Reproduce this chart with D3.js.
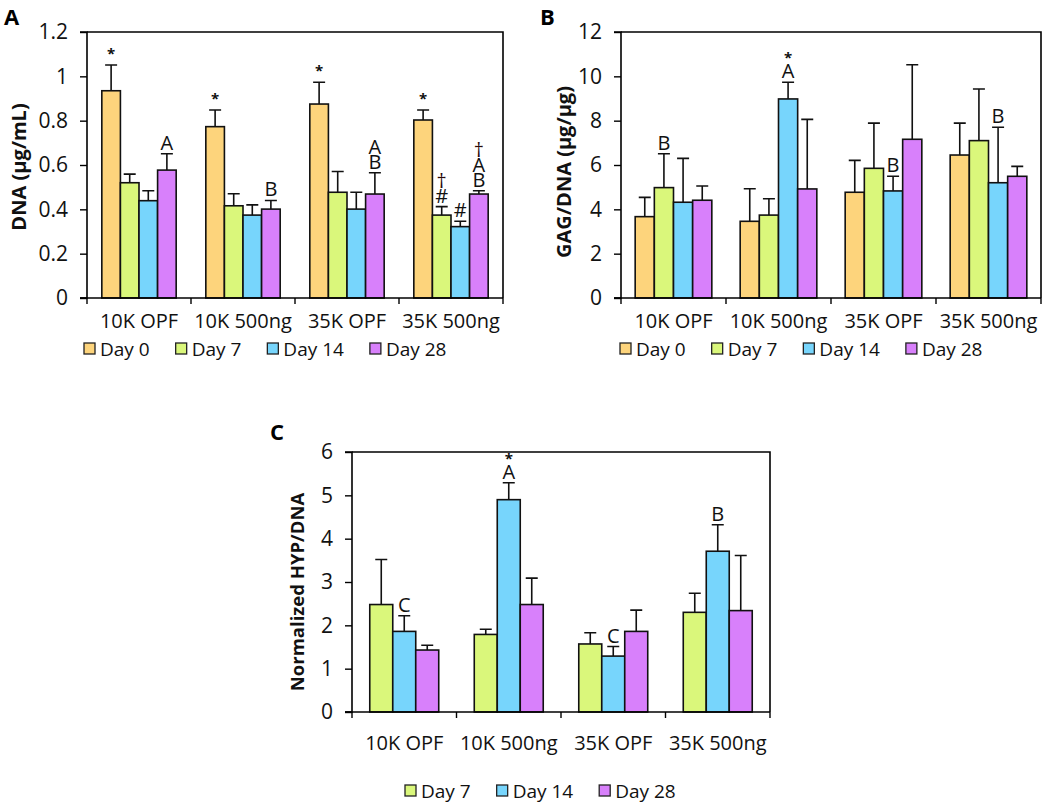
<!DOCTYPE html>
<html>
<head>
<meta charset="utf-8">
<script src="https://cdnjs.cloudflare.com/ajax/libs/d3/7.8.5/d3.min.js"></script>
<style>
  html, body { margin: 0; padding: 0; background: #fff; }
  svg { display: block; font-family: "Open Sans", "DejaVu Sans", sans-serif; }
</style>
</head>
<body>
<svg id="chart" width="1050" height="805"></svg>
<script>
// ---------- DATA ----------
const categories = ["10K OPF", "10K 500ng", "35K OPF", "35K 500ng"];
const daysAB = ["Day 0", "Day 7", "Day 14", "Day 28"];
const daysC = ["Day 7", "Day 14", "Day 28"];

// Panel A: DNA (µg/mL) — rows = categories, columns = days
const dnaMean = [
  [0.935, 0.520, 0.439, 0.577],
  [0.773, 0.416, 0.374, 0.401],
  [0.875, 0.477, 0.401, 0.469],
  [0.803, 0.374, 0.322, 0.469]
];
const dnaErr = [
  [0.116, 0.039, 0.045, 0.074],
  [0.075, 0.054, 0.046, 0.039],
  [0.098, 0.094, 0.076, 0.096],
  [0.045, 0.038, 0.024, 0.015]
];
// annotations, listed bottom-up
const dnaMarks = [
  [["*"], [], [], ["A"]],
  [["*"], [], [], ["B"]],
  [["*"], [], [], ["B", "A"]],
  [["*"], ["#", "†"], ["#"], ["B", "A", "†"]]
];
const dnaTicks = [0, 0.2, 0.4, 0.6, 0.8, 1, 1.2];

// Panel B: GAG/DNA (µg/µg)
const gagMean = [
  [3.67, 4.98, 4.32, 4.41],
  [3.46, 3.74, 8.98, 4.92],
  [4.77, 5.85, 4.83, 7.16],
  [6.45, 7.10, 5.20, 5.49]
];
const gagErr = [
  [0.87, 1.53, 1.98, 0.64],
  [1.47, 0.74, 0.75, 3.14],
  [1.44, 2.04, 0.66, 3.36],
  [1.44, 2.33, 2.50, 0.45]
];
const gagMarks = [
  [[], ["B"], [], []],
  [[], [], ["A", "*"], []],
  [[], [], ["B"], []],
  [[], [], ["B"], []]
];
const gagTicks = [0, 2, 4, 6, 8, 10, 12];

// Panel C: Normalized HYP/DNA
const hypMean = [
  [2.48, 1.86, 1.43],
  [1.79, 4.90, 2.48],
  [1.57, 1.29, 1.86],
  [2.30, 3.71, 2.34]
];
const hypErr = [
  [1.04, 0.36, 0.11],
  [0.12, 0.39, 0.61],
  [0.26, 0.22, 0.49],
  [0.44, 0.61, 1.27]
];
const hypMarks = [
  [[], ["C"], []],
  [[], ["A", "*"], []],
  [[], ["C"], []],
  [[], ["B"], []]
];
const hypTicks = [0, 1, 2, 3, 4, 5, 6];

const dayColors = {
  "Day 0": "#FDD47C",
  "Day 7": "#DAF77B",
  "Day 14": "#77D5FC",
  "Day 28": "#D880FB"
};

// ---------- DRAW ----------
const svg = d3.select("#chart");

function panel(cfg) {
  const g = svg.append("g");
  const x = d3.scaleBand().domain(categories).range([cfg.x0, cfg.x1]).paddingInner(0).paddingOuter(0);
  const y = d3.scaleLinear().domain([0, cfg.ymax]).range([cfg.y1, cfg.y0]);
  const bw = x.bandwidth();
  const inner = d3.scaleBand().domain(cfg.days)
    .range([bw * (1 - cfg.groupFrac) / 2, bw * (1 + cfg.groupFrac) / 2]).padding(0);

  // frame (top and right borders)
  g.append("path")
    .attr("d", `M${cfg.x0},${cfg.y0}H${cfg.x1}V${cfg.y1}`)
    .attr("fill", "none").attr("stroke", "#000").attr("stroke-width", 1.6);

  const rows = [];
  categories.forEach((c, ci) => {
    cfg.days.forEach((d, di) => {
      rows.push({ c, d, v: cfg.mean[ci][di], e: cfg.err[ci][di], m: cfg.marks[ci][di] });
    });
  });

  const bars = g.append("g");
  // error bars (upper only)
  bars.selectAll("path.err").data(rows).join("path")
    .attr("class", "err")
    .attr("d", r => {
      const cx = x(r.c) + inner(r.d) + inner.bandwidth() / 2;
      const yt = y(r.v + r.e), yb = y(r.v);
      return `M${cx},${yb}V${yt}M${cx - 6},${yt}H${cx + 6}`;
    })
    .attr("stroke", "#111").attr("stroke-width", 1.6).attr("fill", "none");

  bars.selectAll("rect").data(rows).join("rect")
    .attr("x", r => x(r.c) + inner(r.d))
    .attr("y", r => y(r.v))
    .attr("width", inner.bandwidth())
    .attr("height", r => y(0) - y(r.v))
    .attr("fill", r => dayColors[r.d])
    .attr("stroke", "#111").attr("stroke-width", 1.6);

  // annotations
  rows.forEach(r => {
    const cx = x(r.c) + inner(r.d) + inner.bandwidth() / 2;
    const yt = y(r.v + r.e);
    r.m.forEach((s, k) => {
      const star = s === "*";
      g.append("text")
        .attr("x", cx).attr("y", yt - (star && k === 0 ? 6 : 4) - k * 15)
        .attr("text-anchor", "middle")
        .attr("font-size", star ? 15 : 20)
        .attr("font-weight", star ? 700 : 400)
        .attr("fill", s === "†" ? "#2a0a0a" : "#111")
        .text(s);
    });
  });

  // y axis
  const ya = g.append("g").attr("transform", `translate(${cfg.x0},0)`)
    .call(d3.axisLeft(y).tickValues(cfg.ticks).tickSize(7).tickPadding(12).tickFormat(d3.format("")));
  ya.select(".domain").attr("stroke", "#000").attr("stroke-width", 1.6).attr("d", `M-7,${cfg.y1}H0V${cfg.y0}H-7`);
  ya.selectAll(".tick line").attr("stroke", "#000").attr("stroke-width", 1.4);
  ya.selectAll(".tick text").attr("font-size", 21).attr("fill", "#111").attr("font-family", "Open Sans");

  // x axis
  const xa = g.append("g").attr("transform", `translate(0,${cfg.y1})`)
    .call(d3.axisBottom(x).tickSize(0).tickPadding(cfg.xLabPad));
  xa.select(".domain").attr("stroke", "#000").attr("stroke-width", 1.6).attr("d", `M${cfg.x0 - 7},0H${cfg.x1}`);
  xa.selectAll(".tick text").attr("font-size", 20).attr("fill", "#111").attr("font-family", "Open Sans");
  const bounds = categories.map(c => x(c)).concat([cfg.x1]);
  xa.selectAll("line.sep").data(bounds).join("line").attr("class", "sep")
    .attr("x1", d => d).attr("x2", d => d).attr("y1", 0).attr("y2", 6)
    .attr("stroke", "#000").attr("stroke-width", 1.4);

  // y title
  g.append("text")
    .attr("transform", `translate(${cfg.titleX},${cfg.titleY}) rotate(-90)`)
    .attr("text-anchor", "middle").attr("font-size", cfg.titleSize).attr("font-weight", 700)
    .attr("fill", "#111").text(cfg.title);

  // panel letter
  g.append("text").attr("x", cfg.letterX).attr("y", cfg.letterY)
    .attr("font-size", 22).attr("font-weight", 700).attr("fill", "#000").text(cfg.letter);

  // legend
  const lg = g.append("g").attr("transform", `translate(${cfg.legX},${cfg.legY})`);
  let lx = 0;
  cfg.days.forEach(d => {
    lg.append("rect").attr("x", lx).attr("y", -6).attr("width", 11).attr("height", 11)
      .attr("fill", dayColors[d]).attr("stroke", "#222").attr("stroke-width", 1.3);
    const t = lg.append("text").attr("x", lx + 16).attr("y", 0).attr("dy", "0.35em")
      .attr("font-size", 19).attr("fill", "#111").text(d);
    lx += 16 + t.node().getComputedTextLength() + 26;
  });
}

panel({
  x0: 87, x1: 503, y0: 32, y1: 298, ymax: 1.2, ticks: dnaTicks, days: daysAB,
  mean: dnaMean, err: dnaErr, marks: dnaMarks, groupFrac: 0.715,
  title: "DNA (μg/mL)", titleSize: 20, titleX: 26, titleY: 167, letter: "A", letterX: 4, letterY: 25,
  legX: 84, legY: 349, xLabPad: 16
});
panel({
  x0: 621, x1: 1041, y0: 32, y1: 298, ymax: 12, ticks: gagTicks, days: daysAB,
  mean: gagMean, err: gagErr, marks: gagMarks, groupFrac: 0.73,
  title: "GAG/DNA (μg/μg)", titleSize: 20, titleX: 571, titleY: 172, letter: "B", letterX: 540, letterY: 25,
  legX: 620, legY: 349, xLabPad: 16
});
panel({
  x0: 352, x1: 770, y0: 452, y1: 712, ymax: 6, ticks: hypTicks, days: daysC,
  mean: hypMean, err: hypErr, marks: hypMarks, groupFrac: 0.66,
  title: "Normalized HYP/DNA", titleSize: 18.5, titleX: 304, titleY: 592, letter: "C", letterX: 270, letterY: 440,
  legX: 405, legY: 791, xLabPad: 24
});
</script>
</body>
</html>
